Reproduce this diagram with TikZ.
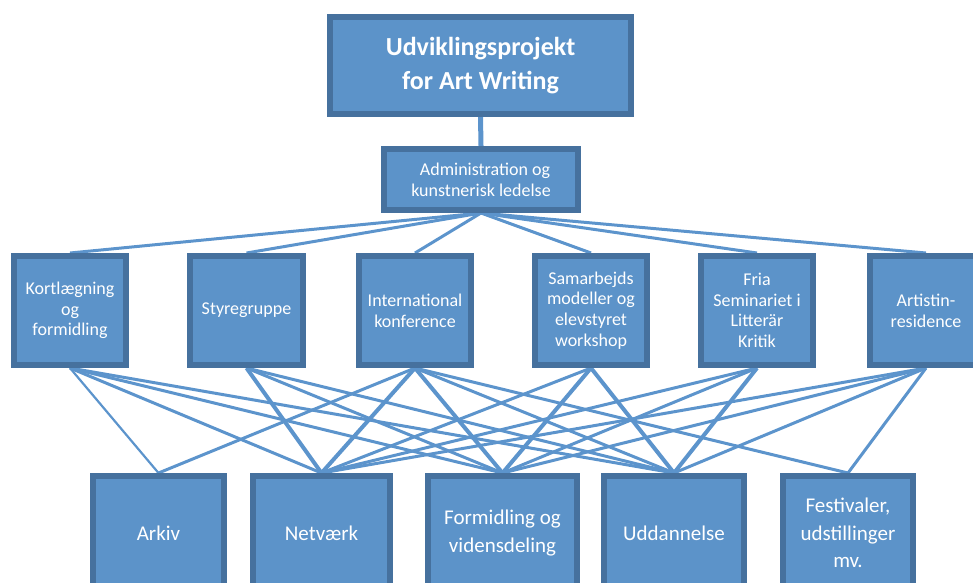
\documentclass[tikz,border=0pt]{standalone}
\usepackage{fontspec}
\setmainfont{Carlito}
\usetikzlibrary{backgrounds}
\definecolor{boxfill}{RGB}{92,147,201}
\definecolor{boxborder}{RGB}{70,113,158}
\definecolor{linkc}{RGB}{92,148,204}
\begin{document}
\begin{tikzpicture}[x=1pt,y=-1pt,
  box/.style={draw=boxborder, fill=boxfill, line width=6pt, text=white, align=center, inner sep=0pt},
  topbox/.style={box, minimum width=301pt, minimum height=97pt, font=\fontsize{26}{34}\selectfont\bfseries},
  adminbox/.style={box, minimum width=194pt, minimum height=61pt, font=\fontsize{18}{21}\selectfont},
  midbox/.style={box, minimum width=112pt, minimum height=109pt, font=\fontsize{18}{20.7}\selectfont},
  botbox/.style={box, minimum height=114pt, font=\fontsize{21}{27.5}\selectfont},
  link/.style={draw=linkc, line width=3pt},
  thinlink/.style={draw=linkc, line width=2.2pt},
  thicklink/.style={draw=linkc, line width=4pt}
]
\useasboundingbox (0,0) rectangle (973,582);

\node[topbox] (top) at (480.5,65.5) {Udviklingsprojekt\\for Art Writing};
\node[adminbox] (admin) at (481,179.5) {\hspace*{8pt}Administration og\\kunstnerisk ledelse};

\node[midbox] (m1) at (70,310.5) {Kortlægning\\og\\formidling};
\node[midbox, minimum width=113pt] (m2) at (246.5,310.5) {Styregruppe};
\node[midbox] (m3) at (415,310.5) {International\\konference};
\node[midbox] (m4) at (591,310.5) {Samarbejds\\modeller og\\elevstyret\\workshop};
\node[midbox] (m5) at (757,310.5) {Fria\\Seminariet i\\Litterär\\Kritik};
\node[midbox] (m6) at (926,310.5) {Artistin-\\residence};

\node[botbox, minimum width=131pt] (b1) at (158.5,533) {Arkiv};
\node[botbox, minimum width=137pt] (b2) at (321.5,533) {Netværk};
\node[botbox, minimum width=149pt] (b3) at (502.5,533) {Formidling og\\vidensdeling};
\node[botbox, minimum width=140pt] (b4) at (674,533) {Uddannelse};
\node[botbox, minimum width=130pt] (b5) at (848,533) {Festivaler,\\udstillinger\\mv.};

\begin{pgfonlayer}{background}
\draw[line width=5pt, draw=linkc] (top.south) -- (admin.north);
\foreach \m in {m1,m2,m3,m4,m5,m6}{
  \draw[link] (admin.south) -- (\m.north);
}
% Kortlaegning
\draw[thinlink] (m1.south) -- (b1.north);
\draw[link] (m1.south) -- (b2.north);
\draw[link] (m1.south) -- (b3.north);
\draw[link] (m1.south) -- (b4.north);
% Styregruppe
\draw[thicklink] (m2.south) -- (b2.north);
\draw[link] (m2.south) -- (b3.north);
\draw[link] (m2.south) -- (b4.north);
% International
\draw[link] (m3.south) -- (b1.north);
\draw[thicklink] (m3.south) -- (b2.north);
\draw[thicklink] (m3.south) -- (b3.north);
\draw[link] (m3.south) -- (b4.north);
\draw[link] (m3.south) -- (b5.north);
% Samarbejds
\draw[link] (m4.south) -- (b2.north);
\draw[thicklink] (m4.south) -- (b3.north);
\draw[thicklink] (m4.south) -- (b4.north);
% Fria
\draw[link] (m5.south) -- (b2.north);
\draw[link] (m5.south) -- (b3.north);
\draw[thicklink] (m5.south) -- (b4.north);
% Artistin
\draw[link] (m6.south) -- (b2.north);
\draw[link] (m6.south) -- (b3.north);
\draw[link] (m6.south) -- (b4.north);
\draw[link] (m6.south) -- (b5.north);
\end{pgfonlayer}
\end{tikzpicture}
\end{document}
